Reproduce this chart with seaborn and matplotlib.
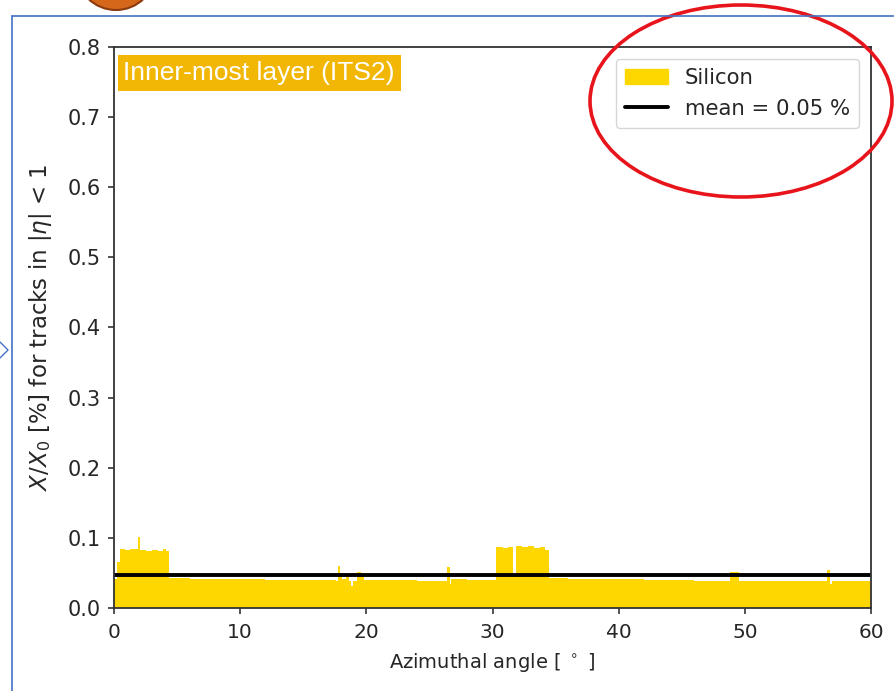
import matplotlib
matplotlib.use("Agg")
import matplotlib.pyplot as plt
import seaborn as sns
import numpy as np
import pandas as pd
from matplotlib.patches import Ellipse
from matplotlib.lines import Line2D

# Bin edges (degrees) and X/X0 values (%)
bin_edges = [0.0, 0.2, 0.5, 0.9, 1.3, 1.9, 2.05, 2.5, 3.0, 3.5, 3.9, 4.15, 4.35,
             6.0, 8.0, 10.0, 12.0, 14.0, 16.0, 17.6, 17.75, 17.9, 18.1, 18.4, 18.6,
             18.8, 18.95, 19.3, 19.6, 19.8, 22.0, 24.0, 26.4, 26.6, 26.75, 28.0,
             30.3, 30.8, 31.2, 31.65, 31.9, 32.3, 32.8, 33.3, 33.8, 34.2, 34.45,
             36.0, 38.0, 40.0, 42.0, 44.0, 46.0, 48.3, 48.8, 49.5, 51.0, 53.0,
             55.0, 56.55, 56.75, 56.9, 58.0, 60.0]
silicon = [0.042, 0.065, 0.084, 0.083, 0.084, 0.101, 0.083, 0.082, 0.083, 0.081, 0.084, 0.082,
           0.0425, 0.042, 0.0415, 0.041, 0.0405, 0.040, 0.0395, 0.039, 0.060, 0.050, 0.041,
           0.047, 0.039, 0.031, 0.039, 0.051, 0.045, 0.0395, 0.0395, 0.039, 0.058, 0.034,
           0.041, 0.0395, 0.087, 0.086, 0.087, 0.045, 0.089, 0.087, 0.088, 0.086, 0.087,
           0.083, 0.0425, 0.042, 0.0415, 0.041, 0.040, 0.0395, 0.039, 0.039, 0.051, 0.039,
           0.0385, 0.038, 0.0385, 0.054, 0.034, 0.0385, 0.038]
mean_value = 0.0466
mean_label = "mean = 0.05 %"
series_label = "Silicon"
panel_label = "Inner-most layer (ITS2)"

sns.set_style("ticks")
plt.rcParams['font.family'] = ['DejaVu Sans']

fig = plt.figure(figsize=(8.94, 6.91), dpi=100)
ax = fig.add_axes([0.1275, 0.1201, 0.8468, 0.8119])

df = pd.DataFrame({"angle": bin_edges[:-1], "x0": silicon})
sns.histplot(data=df, x="angle", weights="x0", bins=bin_edges, element="step",
             fill=True, color="#FFD700", alpha=1.0, linewidth=0, ax=ax, label=series_label)
sns.lineplot(x=[0, 60], y=[mean_value, mean_value], color="black", linewidth=2.8,
             ax=ax, label=mean_label)

ax.set_xlim(0, 60)
ax.set_ylim(0, 0.8)
ax.set_xticks([0, 10, 20, 30, 40, 50, 60])
ax.set_yticks(np.arange(0, 0.81, 0.1))
ax.set_yticklabels([f"{v:.1f}" for v in np.arange(0, 0.81, 0.1)])
ax.tick_params(axis="y", labelsize=15, direction="out", length=4.5, width=1.2,
               color="#333333", pad=5)
ax.tick_params(axis="x", labelsize=14.5, direction="out", length=4.5, width=1.2,
               color="#333333", pad=6)
for s in ax.spines.values():
    s.set_color("#333333")
    s.set_linewidth(1.3)
ax.set_xlabel(r"Azimuthal angle [ $^\circ$ ]", fontsize=14, labelpad=7)
ax.set_ylabel(r"$X/X_0$ [%] for tracks in $|\eta|$ < 1", fontsize=16.5, labelpad=10)

handles = [plt.Rectangle((0, 0), 1, 1, color="#FFD700"),
           Line2D([0], [0], color="black", linewidth=2.8)]
ax.legend(handles, [series_label, mean_label], loc="upper right", fontsize=15.3,
          frameon=True, borderpad=0.45, handlelength=2.0, borderaxespad=0.55)

ax.text(0.0125, 0.975, panel_label, transform=ax.transAxes, ha="left", va="top",
        fontsize=19, color="white", family=["Liberation Sans", "DejaVu Sans"],
        bbox=dict(boxstyle="square,pad=0.22", facecolor="#F2B705", edgecolor="none"))

# slide decorations
W, H = 894, 691
fig.add_artist(Line2D([12 / W, 1.0], [1 - 16 / H, 1 - 16 / H], color="#4472C4", linewidth=1.2))
fig.add_artist(Line2D([12 / W, 12 / W], [0, 1 - 16 / H], color="#4472C4", linewidth=1.2))
fig.add_artist(Line2D([0, 8 / W, 0], [1 - 342 / H, 1 - 350 / H, 1 - 358 / H],
                      color="#4472C4", linewidth=1.0))
fig.add_artist(Ellipse((116 / W, 1 + 28 / H), 78 / W, 76 / H, facecolor="#D4671A",
                       edgecolor="#8B3A0E", linewidth=1.5, transform=fig.transFigure))
fig.add_artist(Ellipse((741 / W, 1 - 101 / H), 302 / W, 192 / H, facecolor="none",
                       edgecolor="#E8141B", linewidth=2.6, transform=fig.transFigure))

fig.savefig("out.png", dpi=100)
